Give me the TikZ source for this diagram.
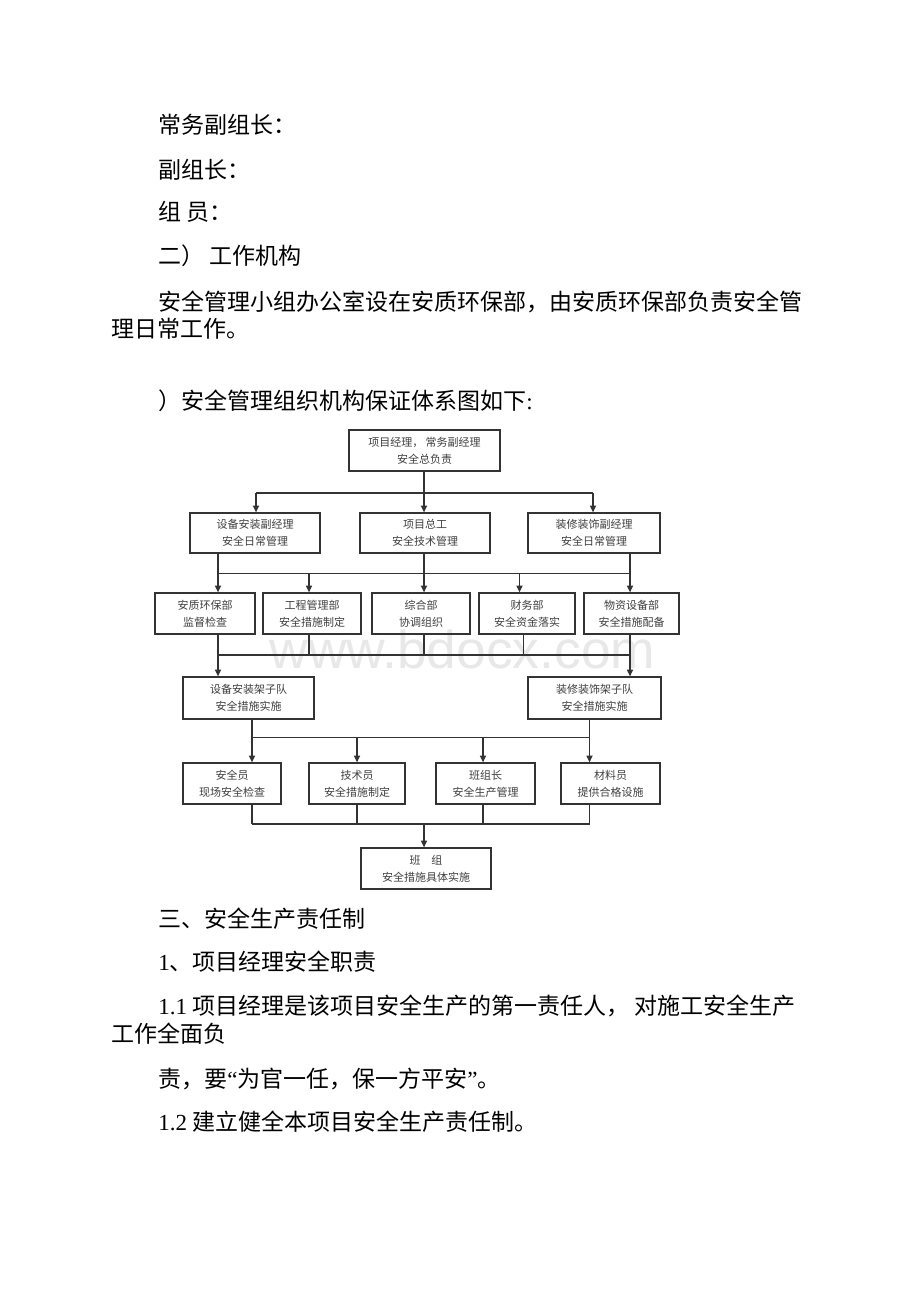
\documentclass[tikz,border=0pt]{standalone}
\usepackage{fontspec}
\setmainfont{Noto Sans CJK SC}
\newfontfamily\lat{Liberation Serif}
\newfontfamily\wmfont{Liberation Sans}
\usetikzlibrary{arrows.meta}
\newcommand\bx[6]{\node[box, minimum width={(#4-#2)*0.75pt}, minimum height={(#5-#3)*0.75pt}] (#1) at ({(#2+#4)/2},{(#3+#5)/2}) {#6};}
\begin{document}
\begin{tikzpicture}[x=0.75pt,y=-0.75pt,
  txt/.style={anchor=base west, inner sep=0pt, font=\fontsize{17.25pt}{20pt}\selectfont, text=black},
  box/.style={draw=black!80, line width=1pt, rectangle, align=center, inner sep=0pt,
    font=\fontsize{8.25pt}{12.75pt}\selectfont, text=black!75},
  ln/.style={draw=black!80, line width=0.9pt},
  arr/.style={ln, -{Triangle[length=5pt,width=4.6pt]}},
  wm/.style={anchor=base, inner sep=0pt, font=\wmfont\fontsize{40pt}{42pt}\selectfont, text=black!9}]
\useasboundingbox[fill=white] (0,0) rectangle (920,1302);

% body text
\node[txt] (l1) at (158,134) {常务副组长：};
\node[txt] (l2) at (158,179) {副组长：};
\node[txt] (l3) at (158,220) {组 员：};
\node[txt] (l4) at (158,264) {二） 工作机构};
\node[txt] (l5) at (158,310) {安全管理小组办公室设在安质环保部，由安质环保部负责安全管};
\node[txt] (l6) at (111.7,337) {理日常工作。};
\node[txt] (l7) at (158,409) {）安全管理组织机构保证体系图如下{\lat :}};

\node[txt] (l8) at (158,927) {三、安全生产责任制};
\node[txt] (l9) at (158,970) {{\lat 1}、项目经理安全职责};
\node[txt] (l10) at (158,1014) {{\lat 1.1 }项目经理是该项目安全生产的第一责任人， 对施工安全生产};
\node[txt] (l11) at (111.7,1042) {工作全面负};
\node[txt] (l12) at (158,1087) {责，要{\lat “}为官一任，保一方平安{\lat ”}。};
\node[txt] (l13) at (158,1130) {{\lat 1.2 }建立健全本项目安全生产责任制。};

% watermark
\node[wm] (wmk) at (462.5,668) {www.bdocx.com};

% boxes
\bx{T}{349}{430}{500}{471}{项目经理， 常务副经理\\安全总负责}
\bx{B1}{190}{513}{320}{553}{设备安装副经理\\安全日常管理}
\bx{B2}{360}{513}{490}{553}{项目总工\\安全技术管理}
\bx{B3}{528}{513}{660}{553}{装修装饰副经理\\安全日常管理}

\bx{C1}{155}{593}{255}{634}{安质环保部\\监督检查}
\bx{C2}{263}{593}{361}{634}{工程管理部\\安全措施制定}
\bx{C3}{372}{593}{470}{634}{综合部\\协调组织}
\bx{C4}{479}{593}{575}{634}{财务部\\安全资金落实}
\bx{C5}{584}{593}{679}{634}{物资设备部\\安全措施配备}

\bx{D1}{183}{677}{314}{719}{设备安装架子队\\安全措施实施}
\bx{D2}{528}{677}{661}{719}{装修装饰架子队\\安全措施实施}

\bx{E1}{183}{763}{281}{804}{安全员\\现场安全检查}
\bx{E2}{309}{763}{405}{804}{技术员\\安全措施制定}
\bx{E3}{436}{763}{535}{804}{班组长\\安全生产管理}
\bx{E4}{561}{763}{660}{804}{材料员\\提供合格设施}

\bx{F}{361}{848}{491}{889}{班\quad 组\\安全措施具体实施}

% bus 1
\coordinate (j1) at (424,493);
\coordinate (j1l) at (256,493);
\coordinate (j1r) at (593,493);
\draw[ln] (T.south -| j1) -- (j1);
\draw[ln] (j1l) -- (j1r);
\draw[arr] (j1l) -- (B1.north -| j1l);
\draw[arr] (j1) -- (B2.north -| j1);
\draw[arr] (j1r) -- (B3.north -| j1r);

% bus 2
\coordinate (k1) at (218,573.5);
\coordinate (k2) at (309,573.5);
\coordinate (k3) at (424,573.5);
\coordinate (k4) at (519.5,573.5);
\coordinate (k5) at (630,573.5);
\draw[ln] (B1.south -| k1) -- (k1);
\draw[ln] (B2.south -| k3) -- (k3);
\draw[ln] (B3.south -| k5) -- (k5);
\draw[ln] (k1) -- (k5);
\draw[arr] (k1) -- (C1.north -| k1);
\draw[arr] (k2) -- (C2.north -| k2);
\draw[arr] (k3) -- (C3.north -| k3);
\draw[arr] (k4) -- (C4.north -| k4);
\draw[arr] (k5) -- (C5.north -| k5);

% bus 3
\coordinate (m1) at (218,655);
\coordinate (m2) at (309,655);
\coordinate (m3) at (424,655);
\coordinate (m4) at (523.6,655);
\coordinate (m5) at (630,655);
\draw[ln] (C1.south -| m1) -- (m1);
\draw[ln] (C2.south -| m2) -- (m2);
\draw[ln] (C3.south -| m3) -- (m3);
\draw[ln] (C4.south -| m4) -- (m4);
\draw[ln] (C5.south -| m5) -- (m5);
\draw[ln] (m1) -- (m5);
\draw[arr] (m1) -- (D1.north -| m1);
\draw[arr] (m5) -- (D2.north -| m5);

% bus 4
\coordinate (n1) at (252,737.4);
\coordinate (n2) at (357,737.4);
\coordinate (n3) at (483,737.4);
\coordinate (n4) at (589.5,737.4);
\draw[ln] (D1.south -| n1) -- (n1);
\draw[ln] (D2.south -| n4) -- (n4);
\draw[ln] (n1) -- (n4);
\draw[arr] (n1) -- (E1.north -| n1);
\draw[arr] (n2) -- (E2.north -| n2);
\draw[arr] (n3) -- (E3.north -| n3);
\draw[arr] (n4) -- (E4.north -| n4);

% bus 5
\coordinate (p1) at (252,824);
\coordinate (p2) at (357,824);
\coordinate (p3) at (483,824);
\coordinate (p4) at (589.5,824);
\coordinate (pc) at (424,824);
\draw[ln] (E1.south -| p1) -- (p1);
\draw[ln] (E2.south -| p2) -- (p2);
\draw[ln] (E3.south -| p3) -- (p3);
\draw[ln] (E4.south -| p4) -- (p4);
\draw[ln] (p1) -- (p4);
\draw[arr] (pc) -- (F.north -| pc);
\end{tikzpicture}
\end{document}
